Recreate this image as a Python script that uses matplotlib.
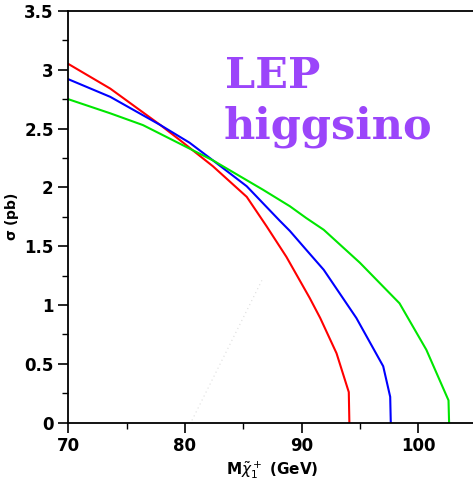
import matplotlib
matplotlib.use("Agg")
import matplotlib.pyplot as plt
from matplotlib.ticker import MultipleLocator

red_m = [70, 73.6, 77.9, 79.6, 82.4, 85.3, 87.0, 88.7, 90.7, 91.6, 93.0, 94.05, 94.1]
red_s = [3.05, 2.84, 2.53, 2.40, 2.18, 1.92, 1.67, 1.41, 1.06, 0.89, 0.59, 0.26, 0.0]
blue_m = [70, 73.6, 77.9, 80.4, 82.4, 85.3, 88.1, 89.0, 90.4, 91.9, 94.7, 97.0, 97.6, 97.65]
blue_s = [2.92, 2.77, 2.53, 2.38, 2.23, 2.01, 1.72, 1.63, 1.47, 1.30, 0.89, 0.48, 0.22, 0.0]
green_m = [70, 73.6, 76.4, 79.6, 82.4, 86.7, 89.0, 90.4, 91.9, 95.0, 98.4, 100.7, 102.6, 102.65]
green_s = [2.75, 2.63, 2.53, 2.37, 2.23, 1.98, 1.84, 1.74, 1.64, 1.36, 1.015, 0.62, 0.19, 0.0]
faint_m = [80.6, 86.6]
faint_s = [0.02, 1.21]

plt.rcParams['font.family'] = ['DejaVu Sans']
fig = plt.figure(figsize=(4.73, 4.90), dpi=100)
ax = fig.add_axes([0.1444, 0.1373, 0.863, 0.8403])

ax.plot(faint_m, faint_s, color='#dcdcdc', lw=0.8, ls=(0, (1, 3)))
ax.plot(red_m, red_s, color='#ff0000', lw=1.5)
ax.plot(blue_m, blue_s, color='#0000ff', lw=1.5)
ax.plot(green_m, green_s, color='#00e600', lw=1.5)

ax.set_xlim(70, 105)
ax.set_ylim(0, 3.5)
ax.xaxis.set_major_locator(MultipleLocator(10))
ax.xaxis.set_minor_locator(MultipleLocator(5))
ax.yaxis.set_minor_locator(MultipleLocator(0.25))
ax.set_yticks([0, 0.5, 1, 1.5, 2, 2.5, 3, 3.5])
ax.set_yticklabels(['0', '0.5', '1', '1.5', '2', '2.5', '3', '3.5'])
for s in ax.spines.values():
    s.set_linewidth(1.3)
ax.tick_params(which='major', direction='out', length=7, width=1.2, labelsize=12, pad=3.5)
ax.tick_params(which='minor', direction='out', length=4, width=1.0)
for lab in ax.get_xticklabels() + ax.get_yticklabels():
    lab.set_fontweight('bold')

ax.set_ylabel(r'$\mathbf{\sigma}$ (pb)', fontsize=10, fontweight='bold')
ax.yaxis.set_label_coords(-0.115, 0.5)
ax.set_xlabel(r'M$\tilde{\chi}_1^+$ (GeV)', fontsize=11, fontweight='bold', labelpad=3)

fig.text(225 / 473, 1 - 88 / 490, 'LEP', fontsize=31, fontweight='bold',
         family='DejaVu Serif', color='#9b45fa', va='baseline', ha='left')
fig.text(224 / 473, 1 - 138 / 490, 'higgsino', fontsize=31, fontweight='bold',
         family='DejaVu Serif', color='#9b45fa', va='baseline', ha='left')

fig.savefig('out.png', dpi=100)
